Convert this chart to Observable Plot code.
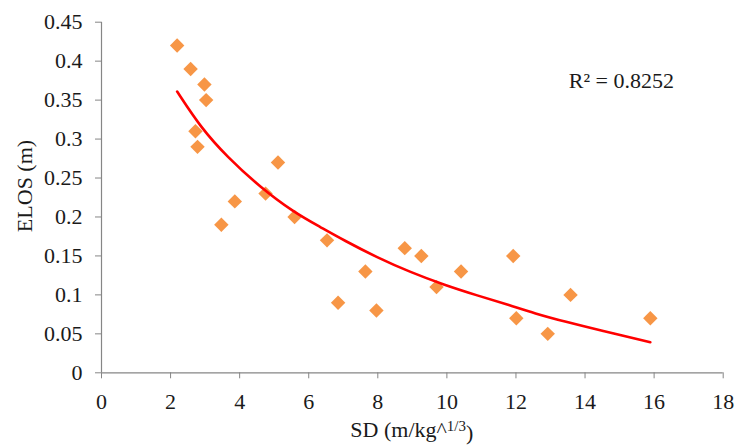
<!DOCTYPE html>
<html>
<head>
<meta charset="utf-8">
<script src="https://cdn.jsdelivr.net/npm/d3@7"></script>
<script src="https://cdn.jsdelivr.net/npm/@observablehq/plot@0.6"></script>
<style>
  html, body { margin: 0; padding: 0; background: #fff; }
  #chart svg { display: block; }
  #chart svg, #chart svg text, #chart svg tspan { font-family: "Times New Roman", Times, "Liberation Serif", serif !important; }
</style>
</head>
<body>
<div id="chart"></div>
<script>
// Observed points
const sdValues = [2.19, 2.58, 2.98, 3.03, 2.72, 2.78, 3.47, 3.86, 4.75, 5.11, 5.59, 6.53, 6.85, 7.64, 7.96, 8.78, 9.26, 9.70, 10.41, 11.92, 12.01, 12.92, 13.58, 15.89];
const elosValues = [0.42, 0.39, 0.37, 0.35, 0.31, 0.29, 0.19, 0.22, 0.23, 0.27, 0.20, 0.17, 0.09, 0.13, 0.08, 0.16, 0.15, 0.11, 0.13, 0.15, 0.07, 0.05, 0.10, 0.07];

// Trendline
const trendX = [2.19, 2.87, 3.64, 4.60, 5.57, 6.34, 7.02, 7.98, 8.95, 9.91, 10.88, 11.84, 12.52, 13.48, 14.45, 15.89];
const trendY = [0.361, 0.315, 0.277, 0.238, 0.206, 0.187, 0.170, 0.148, 0.129, 0.113, 0.0992, 0.0864, 0.0765, 0.0649, 0.0543, 0.0393];

// Ticks
const xTicks = [0, 2, 4, 6, 8, 10, 12, 14, 16, 18];
const yTicks = [0, 0.05, 0.1, 0.15, 0.2, 0.25, 0.3, 0.35, 0.4, 0.45];
const yTickLabels = ["0", "0.05", "0.1", "0.15", "0.2", "0.25", "0.3", "0.35", "0.4", "0.45"];

const xTitle = "SD (m/kg";
const xTitleSup = "1/3";
const yTitle = "ELOS (m)";
const rText = ["R\u00B2 = 0.8252"];
const rPos = {x: 13.53, y: 0.374};

const points = sdValues.map((x, i) => ({x, y: elosValues[i]}));
const trend = trendX.map((x, i) => ({x, y: trendY[i]}));

const font = '"Times New Roman", Times, "Liberation Serif", serif';
const axisGray = "#868686";
const textColor = "#1a1a1a";

const W = 735, H = 445;
const mL = 101, mR = 12.3, mT = 21.7, mB = 72.7;

const chart = Plot.plot({
  width: W,
  height: H,
  marginLeft: mL,
  marginRight: mR,
  marginTop: mT,
  marginBottom: mB,
  style: {fontFamily: font, fontSize: "22px", color: textColor, background: "#fff", overflow: "visible"},
  x: {domain: [0, 18], ticks: xTicks},
  y: {domain: [0, 0.45], ticks: yTicks},
  marks: [
    Plot.axisX({ticks: xTicks, tickSize: 6, tickPadding: 15, stroke: axisGray, fill: textColor, label: null, fontSize: 22, tickFormat: d => String(d)}),
    Plot.axisY({ticks: yTicks, tickSize: 6, tickPadding: 13, stroke: axisGray, fill: textColor, label: null, fontSize: 22,
      tickFormat: d => yTickLabels[yTicks.indexOf(d)]}),
    Plot.ruleY([0], {stroke: axisGray, strokeWidth: 1.2}),
    Plot.ruleX([0], {stroke: axisGray, strokeWidth: 1.2}),
    Plot.dot(points, {x: "x", y: "y", symbol: "diamond2", r: 6.5, fill: "#F79646", stroke: "none"}),
    Plot.line(trend, {x: "x", y: "y", curve: "basis", stroke: "#FF0000", strokeWidth: 2.6}),
    Plot.text(rText, {x: () => rPos.x, y: () => rPos.y, text: d => d, textAnchor: "start", fill: textColor, fontSize: 22, fontFamily: font})
  ]
});

document.getElementById("chart").appendChild(chart);

// Axis titles with superscript
const svg = d3.select(chart);
const xt = svg.append("text")
  .attr("x", (mL + (W - mR)) / 2)
  .attr("y", 437)
  .attr("text-anchor", "middle")
  .attr("fill", textColor)
  .attr("font-family", font)
  .style("font-size", "22px");
xt.append("tspan").text(xTitle + "^");
xt.append("tspan").attr("dy", "-0.42em").style("font-size", "15px").text(xTitleSup);
xt.append("tspan").attr("dy", "0.42em").text(")");

svg.append("text")
  .attr("transform", `translate(32, 186) rotate(-90)`)
  .attr("text-anchor", "middle")
  .attr("fill", textColor)
  .attr("font-family", font)
  .style("font-size", "22px")
  .text(yTitle);
</script>
</body>
</html>
